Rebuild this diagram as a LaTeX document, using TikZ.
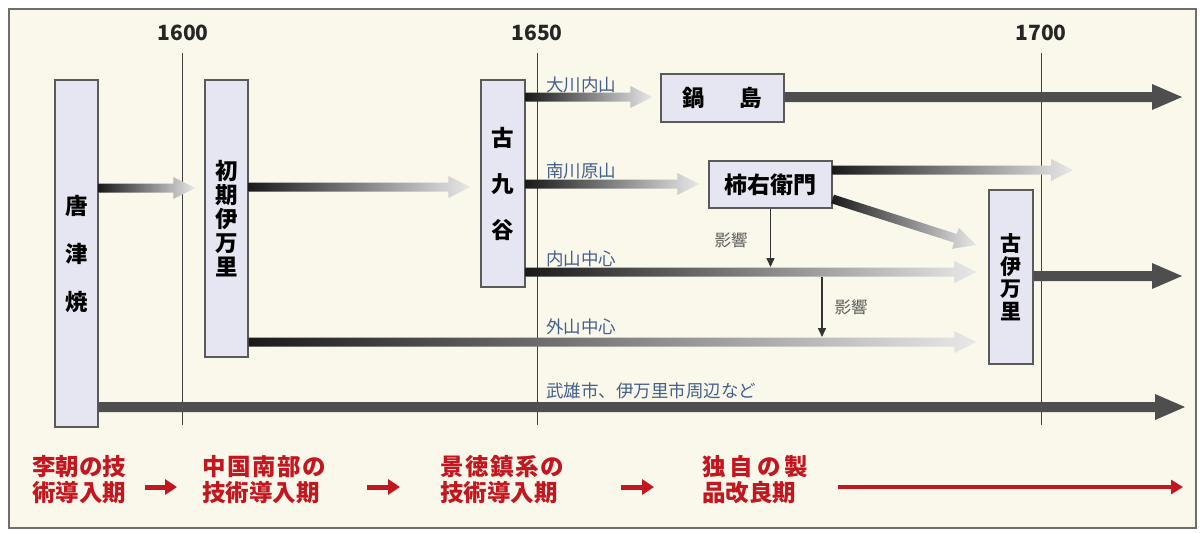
\documentclass[tikz,border=0pt]{standalone}
\usepackage{fontspec}
\newfontfamily\jp{Noto Sans CJK JP}
\usetikzlibrary{calc,arrows.meta}
\definecolor{bg}{HTML}{FAF8EA}
\definecolor{framec}{HTML}{6E6E6E}
\definecolor{boxfill}{HTML}{E6E6F3}
\definecolor{boxdraw}{HTML}{5A5A5A}
\definecolor{darkarr}{HTML}{4E4E4E}
\definecolor{gstart}{HTML}{1A1A1A}
\definecolor{gend}{HTML}{E8E8E8}
\definecolor{bluelab}{HTML}{44608E}
\definecolor{redc}{HTML}{C3161F}
\definecolor{graytext}{HTML}{5A5A5A}
% arrow polygon: #1 options, #2 half shaft, #3 half head, #4 head length, #5 start, #6 end
\newcommand\arrowpoly[6]{%
  \path[#1] let \p1=(#5), \p2=(#6),
    \n1={atan2(\y2-\y1,\x2-\x1)}, \n2={veclen(\x2-\x1,\y2-\y1)} in
    [shift={(\p1)}, rotate=\n1]
    (0,-#2) -- (\n2-#4,-#2) -- (\n2-#4,-#3) -- (\n2,0) -- (\n2-#4,#3)
    -- (\n2-#4,#2) -- (0,#2) -- cycle;}
\begin{document}
\begin{tikzpicture}[x=1pt,y=-1pt,
  box/.style={draw=boxdraw, fill=boxfill, line width=1.2pt, inner sep=0pt},
  year/.style={font=\jp\bfseries\fontsize{21}{24}\selectfont, text=black!85},
  yline/.style={draw=black!75, line width=1pt},
  blab/.style={font=\jp\fontsize{17.5}{20}\selectfont, text=bluelab, anchor=west, inner sep=0pt},
  glab/.style={font=\jp\fontsize{16.5}{20}\selectfont, text=graytext, inner sep=0pt},
  inflarrow/.style={draw=black!80, line width=1.5pt, -{Triangle[length=9pt,width=8pt]}},
  redlab/.style={font=\jp\bfseries\fontsize{23.5}{26}\selectfont, text=redc, align=left, anchor=west, inner sep=0pt},
  redarrow/.style={draw=redc, line width=5pt, -{Triangle[length=12pt,width=15pt]}},
  longred/.style={draw=redc, line width=4pt, -{Triangle[length=12pt,width=14pt]}},
  grad/.style={left color=gstart, right color=gend},
  solid arrow/.style={fill=darkarr},
]
\useasboundingbox (0,0) rectangle (1203,533);
\fill[white] (0,0) rectangle (1203,533);
\draw[framec, line width=2pt, fill=bg] (9,9) rectangle (1196,528);

% years and time lines
\node[year] (y1600) at (183,33) {1600};
\node[year] (y1650) at (537,33) {1650};
\node[year] (y1700) at (1041,33) {1700};
\coordinate (t1600) at (182,53);  \coordinate (b1600) at (182,425);
\coordinate (t1650) at (537,53);  \coordinate (b1650) at (537,425);
\coordinate (t1700) at (1041,53); \coordinate (b1700) at (1041,425);
\draw[yline] (t1600) -- (b1600);
\draw[yline] (t1650) -- (b1650);
\draw[yline] (t1700) -- (b1700);

% boxes
\node[box, minimum width=43pt, minimum height=347pt, align=center,
  font=\jp\bfseries\fontsize{22.5}{48}\selectfont] (kara) at (76.5,253.5) {唐\\津\\焼};
\node[box, minimum width=43pt, minimum height=277pt, align=center,
  font=\jp\bfseries\fontsize{22.5}{24}\selectfont] (shoki) at (226.5,218.5) {初\\期\\伊\\万\\里};
\node[box, minimum width=44pt, minimum height=207pt, align=center,
  font=\jp\bfseries\fontsize{22.5}{46}\selectfont] (kokutani) at (503,183.5) {古\\九\\谷};
\node[box, minimum width=123pt, minimum height=48pt,
  font=\jp\bfseries\fontsize{22.5}{24}\selectfont] (nabeshima) at (722.5,98) {鍋\hspace{35pt}島};
\node[box, minimum width=123pt, minimum height=47pt,
  font=\jp\bfseries\fontsize{23}{24}\selectfont] (kakiemon) at (770.5,184.5) {柿右衛門};
\node[box, minimum width=44pt, minimum height=174pt, align=center,
  font=\jp\bfseries\fontsize{21}{22.5}\selectfont] (koimari) at (1011,277) {古\\伊\\万\\里};

% gradient arrows
\arrowpoly{grad}{4.5}{11}{22}{kara.east |- 0,188}{$(shoki.west |- 0,188)+(-9,0)$}
\arrowpoly{grad}{4.5}{11}{22}{shoki.east |- 0,187}{$(kokutani.west |- 0,187)+(-10,0)$}
\arrowpoly{grad}{4.5}{11}{22}{kokutani.east |- 0,97}{$(nabeshima.west |- 0,97)+(-8,0)$}
\arrowpoly{grad}{4.5}{11}{22}{kokutani.east |- 0,184}{$(kakiemon.west |- 0,184)+(-9,0)$}
\coordinate (kakiend) at (1073,170);
\arrowpoly{grad}{4.5}{11}{22}{kakiemon.east |- 0,170}{kakiend}
\arrowpoly{grad}{4.5}{11}{22}{kakiemon.east |- 0,199}{$(koimari.west)+(-12,-32)$}
\arrowpoly{grad}{4.5}{11}{22}{kokutani.east |- 0,272}{$(koimari.west |- 0,272)+(-12,0)$}
\arrowpoly{grad}{4.5}{11}{22}{shoki.east |- 0,342}{$(koimari.west |- 0,342)+(-12,0)$}

% solid arrows
\coordinate (nabeend) at (1182,97);
\coordinate (koend) at (1182,276);
\coordinate (karaend) at (1185,407);
\arrowpoly{solid arrow}{5}{13}{30}{nabeshima.east |- 0,97}{nabeend}
\arrowpoly{solid arrow}{5}{13}{30}{koimari.east |- 0,276}{koend}
\arrowpoly{solid arrow}{5}{13}{30}{kara.east |- 0,407}{karaend}

% blue labels
\node[blab] (l1) at (546,85) {大川内山};
\node[blab] (l2) at (546,171) {南川原山};
\node[blab] (l3) at (546,259) {内山中心};
\node[blab] (l4) at (546,327) {外山中心};
\node[blab] (l5) at (546,391) {武雄市、伊万里市周辺など};

% influence arrows
\draw[inflarrow] (kakiemon.south) -- (kakiemon.south |- 0,267);
\coordinate (e2s) at (822,277);
\coordinate (e2e) at (822,337);
\draw[inflarrow] (e2s) -- (e2e);
\node[glab] (g1) at (731,240) {影響};
\node[glab] (g2) at (851,307) {影響};

% red period row
\node[redlab] (r1) at (32,480) {李朝の技\\術導入期};
\node[redlab] (r2) at (202,480) {中\hspace{1.5pt}国\hspace{1.5pt}南\hspace{1.5pt}部\hspace{1.5pt}の\\技術導入期};
\node[redlab] (r3) at (440,480) {景\hspace{1.5pt}徳\hspace{1.5pt}鎮\hspace{1.5pt}系\hspace{1.5pt}の\\技術導入期};
\node[redlab] (r4) at (702,480) {独\hspace{4pt}自\hspace{4pt}の\hspace{4pt}製\\品改良期};
\coordinate (ra1s) at (145,487); \coordinate (ra1e) at (177,487);
\coordinate (ra2s) at (367,487); \coordinate (ra2e) at (400,487);
\coordinate (ra3s) at (621,487); \coordinate (ra3e) at (654,487);
\coordinate (ra4s) at (838,487); \coordinate (ra4e) at (1183,487);
\draw[redarrow] (ra1s) -- (ra1e);
\draw[redarrow] (ra2s) -- (ra2e);
\draw[redarrow] (ra3s) -- (ra3e);
\draw[longred] (ra4s) -- (ra4e);
\end{tikzpicture}
\end{document}
